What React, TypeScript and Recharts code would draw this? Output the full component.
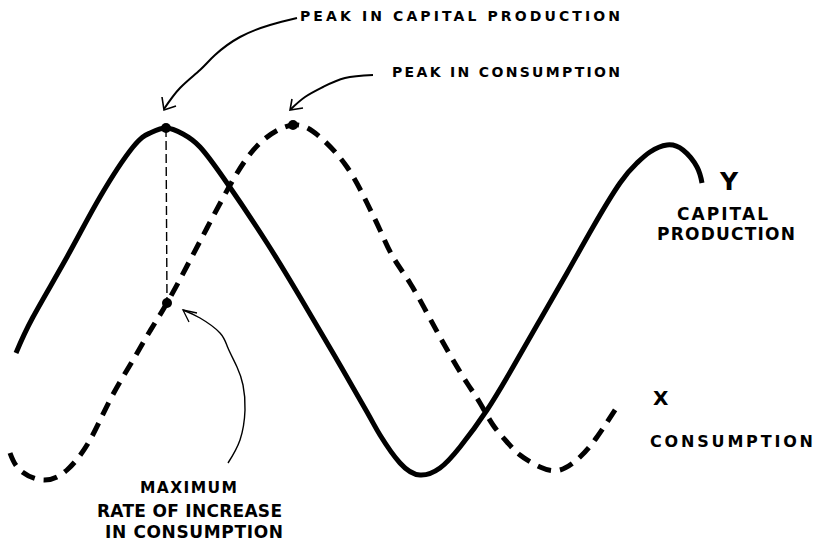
import React from "react";
import { LineChart, Line, XAxis, YAxis, ReferenceDot } from "recharts";

// time axis (t) and level axis (v), arbitrary units
const capitalProduction = [
  { t: 1.6, v: 19.0 }, { t: 3.3, v: 22.6 }, { t: 6.7, v: 28.6 }, { t: 10.0, v: 34.6 },
  { t: 13.3, v: 39.6 }, { t: 15.0, v: 41.0 }, { t: 16.6, v: 41.5 }, { t: 18.3, v: 40.9 },
  { t: 20.0, v: 39.6 }, { t: 22.7, v: 36.0 }, { t: 26.7, v: 30.0 }, { t: 30.0, v: 24.6 },
  { t: 33.3, v: 19.0 }, { t: 36.7, v: 13.1 }, { t: 38.0, v: 10.8 }, { t: 40.0, v: 8.0 },
  { t: 42.0, v: 6.8 }, { t: 44.0, v: 7.5 }, { t: 46.0, v: 9.6 }, { t: 48.7, v: 13.3 },
  { t: 51.3, v: 17.6 }, { t: 54.0, v: 22.3 }, { t: 56.7, v: 27.0 }, { t: 59.3, v: 31.6 },
  { t: 62.0, v: 36.0 }, { t: 63.7, v: 38.0 }, { t: 65.0, v: 39.1 }, { t: 66.7, v: 39.8 },
  { t: 68.3, v: 39.3 }, { t: 69.7, v: 37.6 }, { t: 70.2, v: 36.0 },
];

const consumption = [
  { t: 1.0, v: 9.0 }, { t: 2.0, v: 7.3 }, { t: 4.3, v: 6.3 }, { t: 6.7, v: 7.3 },
  { t: 9.0, v: 10.3 }, { t: 11.0, v: 14.3 }, { t: 13.3, v: 18.3 }, { t: 15.0, v: 21.2 },
  { t: 16.7, v: 24.0 }, { t: 18.7, v: 27.7 }, { t: 20.7, v: 31.5 }, { t: 23.3, v: 36.3 },
  { t: 26.0, v: 40.0 }, { t: 29.3, v: 41.8 }, { t: 32.0, v: 40.6 }, { t: 34.7, v: 37.6 },
  { t: 36.7, v: 34.0 }, { t: 38.0, v: 31.3 }, { t: 39.3, v: 28.6 }, { t: 41.0, v: 26.0 },
  { t: 42.7, v: 23.0 }, { t: 44.0, v: 20.6 }, { t: 45.3, v: 18.3 }, { t: 46.7, v: 16.0 },
  { t: 48.0, v: 14.0 }, { t: 49.3, v: 11.8 }, { t: 50.7, v: 10.1 }, { t: 52.0, v: 8.8 },
  { t: 54.0, v: 7.6 }, { t: 56.0, v: 7.3 }, { t: 58.0, v: 8.6 }, { t: 59.7, v: 10.6 },
  { t: 61.7, v: 13.6 },
];

const peakDrop = [{ t: 16.6, v: 41.5 }, { t: 16.7, v: 24.0 }];

const markedPoints = [
  { t: 16.6, v: 41.5 },
  { t: 16.7, v: 24.0 },
  { t: 29.3, v: 41.8 },
];

const arrowCapitalPeak = [
  { t: 29.7, v: 52.5 }, { t: 27.0, v: 51.8 }, { t: 24.0, v: 50.6 }, { t: 21.5, v: 48.8 },
  { t: 20.0, v: 47.3 }, { t: 18.0, v: 45.5 }, { t: 16.4, v: 43.4 },
];
const headCapitalPeak = [{ t: 16.2, v: 44.6 }, { t: 16.4, v: 43.3 }, { t: 17.6, v: 43.7 }];

const arrowConsumptionPeak = [
  { t: 37.3, v: 46.8 }, { t: 34.5, v: 46.5 }, { t: 32.3, v: 45.6 }, { t: 30.5, v: 44.6 },
  { t: 29.1, v: 43.4 },
];
const headConsumptionPeak = [{ t: 29.2, v: 44.4 }, { t: 29.0, v: 43.3 }, { t: 30.3, v: 43.5 }];

const arrowMaxRate = [
  { t: 22.8, v: 8.0 }, { t: 24.0, v: 10.3 }, { t: 24.5, v: 13.3 }, { t: 24.3, v: 15.8 },
  { t: 23.7, v: 17.6 }, { t: 22.8, v: 19.5 }, { t: 22.0, v: 21.0 }, { t: 20.0, v: 22.5 },
  { t: 18.3, v: 23.3 },
];
const headMaxRate = [{ t: 19.7, v: 23.0 }, { t: 18.3, v: 23.3 }, { t: 18.9, v: 22.1 }];

const labelTexts = [
  "PEAK IN CAPITAL PRODUCTION",
  "PEAK IN CONSUMPTION",
  "MAXIMUM",
  "RATE OF INCREASE",
  "IN CONSUMPTION",
  "Y",
  "CAPITAL",
  "PRODUCTION",
  "X",
  "CONSUMPTION",
];

// anchor (left, baseline) in chart units, plus typographic settings
const labelLayout = [
  { t: 30.0, v: 52.2, size: 14, width: 320 },
  { t: 39.2, v: 46.6, size: 14, width: 228 },
  { t: 14.0, v: 5.0, size: 15.5, width: 97 },
  { t: 9.7, v: 2.6, size: 17, width: 185 },
  { t: 10.5, v: 0.5, size: 17, width: 178 },
  { t: 72.0, v: 35.3, size: 25, width: 18 },
  { t: 67.7, v: 32.3, size: 17, width: 91 },
  { t: 65.7, v: 30.3, size: 17, width: 138 },
  { t: 65.3, v: 13.8, size: 20, width: 20 },
  { t: 65.0, v: 9.6, size: 16, width: 163 },
];

const W = 822;
const H = 543;

export default function App() {
  return (
    <div style={{ position: "absolute", left: 0, top: 0, width: W, height: H, background: "#fff" }}>
      <LineChart width={W} height={H} margin={{ top: 0, right: 0, bottom: 0, left: 0 }}>
        <XAxis type="number" dataKey="t" domain={[0, 82.2]} allowDataOverflow hide />
        <YAxis type="number" dataKey="v" domain={[0, 54.3]} allowDataOverflow hide />

        <Line data={peakDrop} dataKey="v" type="linear" stroke="#000" strokeWidth={1.4}
          strokeDasharray="9 4" dot={false} activeDot={false} isAnimationActive={false} />

        <Line data={capitalProduction} dataKey="v" type="natural" stroke="#000" strokeWidth={5}
          dot={false} activeDot={false} isAnimationActive={false} />
        <Line data={consumption} dataKey="v" type="natural" stroke="#000" strokeWidth={5}
          strokeDasharray="14 9" dot={false} activeDot={false} isAnimationActive={false} />

        <Line data={arrowCapitalPeak} dataKey="v" type="natural" stroke="#000" strokeWidth={2}
          dot={false} activeDot={false} isAnimationActive={false} />
        <Line data={headCapitalPeak} dataKey="v" type="linear" stroke="#000" strokeWidth={1.6}
          dot={false} activeDot={false} isAnimationActive={false} />
        <Line data={arrowConsumptionPeak} dataKey="v" type="natural" stroke="#000" strokeWidth={2}
          dot={false} activeDot={false} isAnimationActive={false} />
        <Line data={headConsumptionPeak} dataKey="v" type="linear" stroke="#000" strokeWidth={1.6}
          dot={false} activeDot={false} isAnimationActive={false} />
        <Line data={arrowMaxRate} dataKey="v" type="natural" stroke="#000" strokeWidth={1.4}
          dot={false} activeDot={false} isAnimationActive={false} />
        <Line data={headMaxRate} dataKey="v" type="linear" stroke="#000" strokeWidth={1.3}
          dot={false} activeDot={false} isAnimationActive={false} />

        {markedPoints.map((p, i) => (
          <ReferenceDot key={`m${i}`} x={p.t} y={p.v} r={5} fill="#000" stroke="none" />
        ))}

        {labelTexts.map((txt, i) => {
          const l = labelLayout[i];
          return (
            <ReferenceDot
              key={`l${i}`}
              x={l.t}
              y={l.v}
              r={0}
              shape={(props: any) => (
                <text
                  x={props.cx}
                  y={props.cy}
                  fontFamily="'DejaVu Sans', sans-serif"
                  fontWeight={700}
                  fontSize={l.size}
                  fill="#000"
                  textLength={l.width}
                  lengthAdjust="spacing"
                >
                  {txt}
                </text>
              )}
            />
          );
        })}
      </LineChart>
    </div>
  );
}
